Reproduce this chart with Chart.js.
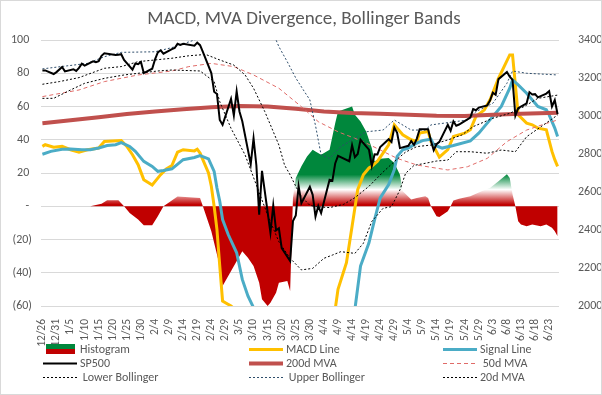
<!DOCTYPE html>
<html>
<head>
<meta charset="utf-8">
<script src="https://cdn.jsdelivr.net/npm/chart.js@4.4.1/dist/chart.umd.min.js"></script>
<style>
  body { margin: 0; background: #fff; }
  canvas { display: block; }
</style>
</head>
<body>
<canvas id="macd-chart" width="602" height="395"></canvas>
<script>
// x axis tick labels (every 5 days)
const tickDates = ['12/26','12/31','1/5','1/10','1/15','1/20','1/25','1/30','2/4','2/9','2/14','2/19','2/24','2/29',
  '3/5','3/10','3/15','3/20','3/25','3/30','4/4','4/9','4/14','4/19','4/24','4/29','5/4','5/9','5/14','5/19',
  '5/24','5/29','6/3','6/8','6/13','6/18','6/23'];

// SP500 closes (right axis)
const tradeDates = ['12/26','12/27','12/30','12/31',
  '1/2','1/3','1/6','1/7','1/8','1/9','1/10','1/13','1/14','1/15','1/16','1/17','1/21','1/22','1/23','1/24','1/27','1/28','1/29','1/30','1/31',
  '2/3','2/4','2/5','2/6','2/7','2/10','2/11','2/12','2/13','2/14','2/18','2/19','2/20','2/21','2/24','2/25','2/26','2/27','2/28',
  '3/2','3/3','3/4','3/5','3/6','3/9','3/10','3/11','3/12','3/13','3/16','3/17','3/18','3/19','3/20','3/23','3/24','3/25','3/26','3/27','3/30','3/31',
  '4/1','4/2','4/3','4/6','4/7','4/8','4/9','4/13','4/14','4/15','4/16','4/17','4/20','4/21','4/22','4/23','4/24','4/27','4/28','4/29','4/30',
  '5/1','5/4','5/5','5/6','5/7','5/8','5/11','5/12','5/13','5/14','5/15','5/18','5/19','5/20','5/21','5/22','5/26','5/27','5/28','5/29',
  '6/1','6/2','6/3','6/4','6/5','6/8','6/9','6/10','6/11','6/12','6/15','6/16','6/17','6/18','6/19','6/22','6/23','6/24','6/25','6/26'];
const sp500 = [3240,3240,3221,3231,
  3258,3235,3246,3237,3253,3275,3265,3288,3283,3289,3317,3330,3321,3322,3325,3295,3244,3276,3273,3284,3226,
  3249,3298,3335,3346,3328,3352,3358,3380,3374,3380,3370,3386,3373,3338,3226,3128,3116,2979,2954,
  3090,3003,3130,3024,2972,2747,2882,2741,2481,2711,2386,2529,2398,2409,2305,2237,2447,2476,2630,2541,2627,2585,
  2471,2527,2489,2664,2659,2750,2790,2762,2846,2783,2800,2875,2823,2737,2799,2798,2837,2878,2863,2940,2912,
  2831,2843,2868,2848,2881,2930,2930,2870,2820,2852,2864,2954,2923,2972,2949,2955,2992,3036,3030,3044,
  3056,3081,3123,3112,3194,3232,3207,3190,3002,3041,3067,3125,3113,3115,3098,3118,3131,3050,3084,3009];

// left axis series [date, value]
const histogram = [['12/26',0],['1/12',0],['1/16',1.5],['1/18',3.6],['1/22',3.6],['1/24',0],['1/26',-4],['1/29',-8],['1/31',-11.5],
  ['2/3',-11.5],['2/5',-6],['2/7',0],['2/12',5.8],['2/20',5],['2/21',0],['2/24',-15],['2/27',-36],['2/28',-48],
  ['3/6',-27],['3/8',-31],['3/10',-36],['3/12',-46],['3/13',-56],['3/15',-60],['3/16',-58],['3/18',-52],['3/19',-46],['3/22',-45],['3/23',-51],
  ['3/24',5],['3/25',17],['3/27',24],['3/29',30],['3/31',34],['4/1',33],['4/3',31],['4/6',34],['4/8',50],['4/9',57],['4/14',60],
  ['4/15',55],['4/17',51],['4/19',45],['4/21',35],['4/22',27],['4/24',28.5],['4/27',29],['4/29',26],['5/1',19],['5/2',9],['5/5',4],
  ['5/7',5],['5/10',6],['5/11',5],['5/12',0],['5/14',-6],['5/15',-6.5],['5/18',-3],['5/19',0],['5/20',3.5],['5/22',4.5],['5/26',6],
  ['5/30',9],['6/2',11],['6/5',15],['6/8',19.3],['6/9',17],['6/10',7],['6/11',0],['6/12',-9],['6/13',-11],['6/15',-12],['6/17',-11],
  ['6/20',-12],['6/22',-11],['6/24',-13],['6/25',-15],['6/26',-18]];
const macdLine = [['12/26',36],['12/27',37],['12/30',35.5],['1/2',36],['1/5',34],['1/8',32.5],['1/11',34],['1/15',35],['1/17',39],
  ['1/23',39.5],['1/25',36],['1/27',31],['1/29',25],['1/31',16],['2/3',12.8],['2/6',19],['2/8',22.5],['2/10',24.5],['2/12',32.5],
  ['2/14',34],['2/18',33.3],['2/19',34.3],['2/20',32],['2/23',20],['2/24',12],['2/25',0],['2/26',-14],['2/27',-36],['2/28',-57],
  ['2/29',-58],['3/2',-60],['3/4',-63],['3/10',-85],['3/20',-100],['3/30',-90],['4/5',-75],['4/8',-62],['4/9',-50],['4/12',-34],
  ['4/14',-12],['4/16',10],['4/18',19],['4/20',23],['4/21',24],['4/23',27],['4/25',32],['4/27',37],['4/29',49],['4/30',47],
  ['5/2',43],['5/5',40],['5/7',39],['5/8',44],['5/11',45],['5/12',39],['5/13',36],['5/15',29.5],['5/18',34],['5/20',42],['5/24',44],
  ['5/26',46],['5/28',54],['5/31',58],['6/2',64],['6/5',77],['6/7',84],['6/9',91],['6/10',91],['6/11',73],['6/12',55],['6/15',50],
  ['6/17',49],['6/19',47],['6/22',46],['6/24',33],['6/25',28],['6/26',24]];
const signalLine = [['12/26',31.3],['12/29',33],['1/2',34.3],['1/5',34.5],['1/9',34],['1/12',34],['1/15',35],['1/18',36.5],['1/21',37],
  ['1/23',38.3],['1/26',36],['1/28',33],['1/31',27],['2/3',24],['2/5',21],['2/7',21.5],['2/10',22.5],['2/14',28],['2/18',29.3],
  ['2/20',30.5],['2/23',28.5],['2/25',21],['2/26',11],['2/27',3],['2/28',-8],['3/1',-17],['3/4',-28],['3/6',-44],['3/8',-54],
  ['3/10',-61],['3/15',-80],['3/25',-95],['4/4',-85],['4/12',-70],['4/15',-62],['4/17',-36],['4/20',-22],['4/22',-8],['4/24',5],
  ['4/27',13],['4/29',22],['4/30',30],['5/2',34],['5/4',35],['5/7',38],['5/9',39.5],['5/12',40.3],['5/13',37],['5/16',35],['5/20',36.5],
  ['5/26',39.3],['5/29',44],['6/1',50],['6/6',60],['6/9',71],['6/10',76],['6/12',73],['6/15',68],['6/19',60],['6/22',58],['6/23',55],
  ['6/25',47],['6/26',42]];

// right axis averages and bands [date, value]
const mva200 = [['12/26',2962],['1/5',2978],['1/15',2994],['1/25',3010],['2/4',3024],['2/14',3036],['2/24',3046],['3/5',3052],
  ['3/15',3050],['3/25',3038],['4/4',3024],['4/14',3016],['4/24',3012],['5/4',3006],['5/14',3001],['5/24',3000],['6/3',3006],
  ['6/13',3012],['6/26',3017]];
const mva50 = [['12/26',3102],['1/8',3137],['1/17',3181],['1/29',3216],['2/10',3237],['2/16',3260],['2/24',3277],['3/3',3260],
  ['3/10',3216],['3/19',3146],['3/27',3049],['4/2',2970],['4/9',2917],['4/18',2865],['4/30',2777],['5/7',2742],['5/18',2716],
  ['5/25',2733],['6/1',2777],['6/8',2865],['6/15',2926],['6/22',2961],['6/26',2979]];
const lowerBand = [['12/26',3093],['12/30',3093],['1/5',3137],['1/10',3172],['1/17',3198],['1/24',3216],['2/5',3237],['2/10',3242],
  ['2/20',3237],['2/25',3181],['2/27',3075],['3/2',2935],['3/7',2795],['3/11',2637],['3/15',2479],['3/19',2338],['3/23',2251],
  ['3/27',2190],['3/31',2198],['4/4',2251],['4/7',2268],['4/10',2286],['4/15',2277],['4/18',2330],['4/21',2445],['4/25',2514],
  ['4/28',2523],['5/1',2611],['5/3',2698],['5/6',2740],['5/10',2751],['5/14',2763],['5/18',2768],['5/21',2812],['5/26',2812],
  ['6/1',2804],['6/6',2821],['6/11',2812],['6/15',2891],['6/21',2953],['6/26',3005]];
const upperBand = [['12/26',3248],['1/11',3277],['1/17',3312],['1/23',3335],['2/4',3338],['2/10',3360],['2/14',3380],['2/18',3400],
  ['2/24',3430],['3/5',3440],['3/15',3420],['3/18',3400],['3/19',3365],['3/22',3285],['3/25',3200],['3/28',3130],['3/30',3085],
  ['4/1',2950],['4/3',2795],['4/6',2777],['4/10',2839],['4/19',2917],['4/25',2926],['4/29',2979],['5/5',2926],['5/10',2926],
  ['5/12',2953],['5/25',2979],['5/28',3023],['6/3',3067],['6/8',3172],['6/10',3237],['6/15',3225],['6/26',3216]];
const mva20 = [['12/26',3167],['1/1',3181],['1/8',3202],['1/17',3251],['1/23',3260],['1/29',3286],['2/10',3304],['2/16',3317],
  ['2/22',3324],['2/27',3295],['3/3',3268],['3/7',3216],['3/10',3146],['3/14',3023],['3/16',2953],['3/19',2847],['3/21',2742],
  ['3/23',2690],['3/25',2630],['3/27',2575],['3/30',2530],['4/1',2523],['4/6',2518],['4/11',2535],['4/15',2570],['4/20',2630],
  ['4/25',2705],['4/29',2760],['5/3',2810],['5/7',2839],['5/12',2847],['5/18',2874],['5/23',2900],['5/27',2944],['6/3',2988],
  ['6/9',3014],['6/14',3049],['6/19',3093],['6/26',3110]];

const FONT = 'Carlito, Calibri, Lato, sans-serif';
const GREY = '#595959';

function dayOf(md) {
  const [m, d] = md.split('/').map(Number);
  const t = Date.UTC(m === 12 ? 2019 : 2020, m - 1, d);
  return Math.round((t - Date.UTC(2019, 11, 26)) / 864e5);
}
function pts(list) {
  return list.map(p => ({ x: dayOf(p[0]), y: p[1] }));
}
const tickDays = tickDates.map(dayOf);

// histogram: green on top, fading to white, red near and below zero
function histFill(context) {
  const chart = context.chart;
  if (!chart.chartArea) return '#C00000';
  const y = chart.scales.y;
  const g = chart.ctx.createLinearGradient(0, y.getPixelForValue(19), 0, y.getPixelForValue(1));
  g.addColorStop(0, '#00873C');
  g.addColorStop(0.5, '#FFFFFF');
  g.addColorStop(1, '#C00000');
  return g;
}

function line(label, data, color, width, axis, order, dash) {
  return {
    label: label,
    data: pts(data),
    borderColor: color,
    backgroundColor: color,
    borderWidth: width,
    borderDash: dash || [],
    pointRadius: 0,
    fill: false,
    tension: 0,
    yAxisID: axis,
    order: order
  };
}

const datasets = [
  { label: 'Histogram', data: pts(histogram), yAxisID: 'y', fill: 'origin', backgroundColor: histFill,
    borderWidth: 0, pointRadius: 0, tension: 0, order: 20 },
  line('MACD Line', macdLine, '#FFC000', 3, 'y', 9),
  line('Signal Line', signalLine, '#4BACC6', 3, 'y', 8),
  { label: 'SP500', data: tradeDates.map((d, i) => ({ x: dayOf(d), y: sp500[i] })), borderColor: '#000000',
    backgroundColor: '#000000', borderWidth: 2, pointRadius: 0, tension: 0, yAxisID: 'y2', order: 1 },
  line('200d MVA', mva200, '#C0504D', 4, 'y2', 7),
  line(' 50d MVA', mva50, '#E06B68', 1, 'y2', 6, [4, 3]),
  line(' Lower Bollinger', lowerBand, '#000000', 1, 'y2', 5, [2, 2]),
  line(' Upper Bollinger', upperBand, '#2E4D6B', 1, 'y2', 4, [2, 2]),
  line('20d MVA', mva20, '#000000', 1, 'y2', 3, [2, 2])
];

// title, custom three-column legend and outer frame
const decorations = {
  id: 'decorations',
  afterDraw(chart) {
    const c = chart.ctx;
    c.save();
    c.fillStyle = GREY;
    c.textAlign = 'center';
    c.textBaseline = 'middle';
    c.font = '19px ' + FONT;
    c.fillText('MACD, MVA Divergence, Bollinger Bands', 304, 19);

    const colX = [43, 249, 443];
    const rowY = [349, 363, 377];
    c.font = '12px ' + FONT;
    c.textAlign = 'left';
    chart.data.datasets.forEach((ds, i) => {
      const x = colX[i % 3], y = rowY[Math.floor(i / 3)];
      if (ds.label === 'Histogram') {
        c.fillStyle = '#00873C';
        c.fillRect(x + 3, y - 5, 29, 5);
        c.fillStyle = '#C00000';
        c.fillRect(x + 3, y, 29, 5);
      } else {
        c.strokeStyle = ds.borderColor;
        c.lineWidth = ds.borderWidth;
        c.setLineDash(ds.borderDash || []);
        c.beginPath();
        c.moveTo(x, y + 0.5);
        c.lineTo(x + 34, y + 0.5);
        c.stroke();
        c.setLineDash([]);
      }
      c.fillStyle = GREY;
      c.fillText(ds.label, x + 37, y + 1);
    });

    c.strokeStyle = '#D9D9D9';
    c.lineWidth = 1;
    c.strokeRect(0.5, 0.5, 601, 394);
    c.restore();
  }
};

Chart.defaults.font.family = FONT;
Chart.defaults.font.size = 12;
Chart.defaults.color = GREY;

new Chart(document.getElementById('macd-chart'), {
  type: 'line',
  data: { datasets: datasets },
  options: {
    responsive: false,
    animation: false,
    devicePixelRatio: 1,
    events: [],
    layout: { padding: { top: 40, bottom: 49, left: 0, right: 0 } },
    plugins: {
      legend: { display: false },
      title: { display: false },
      tooltip: { enabled: false }
    },
    scales: {
      x: {
        type: 'linear',
        min: -0.5,
        max: 183.5,
        grid: { display: false },
        border: { display: false },
        afterBuildTicks: s => { s.ticks = tickDays.map(v => ({ value: v })); },
        afterFit: s => { s.height = 40; },
        ticks: {
          autoSkip: false,
          minRotation: 90,
          maxRotation: 90,
          padding: 5,
          font: { size: 11.5 },
          callback: v => tickDates[tickDays.indexOf(v)]
        }
      },
      y: {
        position: 'left',
        min: -60,
        max: 100,
        grid: { color: '#D9D9D9', drawTicks: false },
        border: { display: false },
        afterFit: s => { s.width = 41; },
        ticks: {
          stepSize: 20,
          padding: 9,
          callback: v => v === 0 ? '- ' : (v < 0 ? '(' + (-v) + ')' : v + ' ')
        }
      },
      y2: {
        position: 'right',
        min: 2000,
        max: 3400,
        grid: { display: false },
        border: { display: false },
        afterFit: s => { s.width = 43; },
        ticks: { stepSize: 200, padding: 11, callback: v => String(v) }
      }
    }
  },
  plugins: [decorations]
});
</script>
</body>
</html>
